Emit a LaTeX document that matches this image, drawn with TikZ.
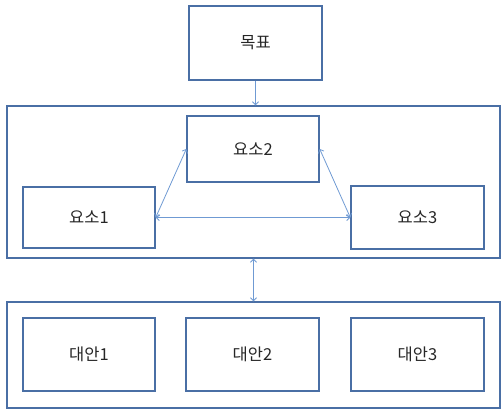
\documentclass[tikz,border=0pt]{standalone}
\usepackage{fontspec}
\setmainfont{Noto Sans CJK KR}
\usetikzlibrary{arrows.meta}
\definecolor{boxline}{HTML}{4A6FA5}
\definecolor{arrowline}{HTML}{6F9AD3}
\definecolor{labeltext}{HTML}{262626}
\begin{document}
\begin{tikzpicture}[x=1pt,y=-1pt]

      \tikzset{block/.style={draw=boxline, line width=1.4pt, rectangle, inner sep=0pt, font=\fontsize{16.5}{18}\selectfont, text=labeltext},
               link/.style={draw=arrowline, line width=0.8pt},
               tip/.tip={Straight Barb[length=3pt,width=6pt]}}
      \useasboundingbox (0,0) rectangle (501,409);
%% Frames
      	\node[block, minimum width=493pt, minimum height=152pt] (frame1) at (253.5,182) {};
      	\node[block, minimum width=493pt, minimum height=106pt] (frame2) at (253.5,355) {};
%% Goal
      	\node[block, minimum width=133pt, minimum height=74pt] (goal) at (255.5,43) {목표};
%% Elements
      	\node[block, minimum width=132pt, minimum height=66pt] (elem2) at (253,149) {요소2};
      	\node[block, minimum width=132pt, minimum height=61pt] (elem1) at (89,217.5) {요소1};
    	\node[block, minimum width=133pt, minimum height=63pt] (elem3) at (417.5,217.5) {요소3};
%% Alternatives
      	\node[block, minimum width=132pt, minimum height=73pt] (alt1) at (89,354.5) {대안1};
      	\node[block, minimum width=133pt, minimum height=73pt] (alt2) at (252.5,354.5) {대안2};
    	\node[block, minimum width=133pt, minimum height=73pt] (alt3) at (417.5,354.5) {대안3};
%Arrows
		\draw[link, -tip] (goal.south) -- (goal.south |- frame1.north);
		\draw[link, tip-tip] (elem1.east) -- (elem2.west);
		\draw[link, tip-tip] (elem2.east) -- (elem3.west);
		\draw[link, tip-tip] (elem1.east) -- (elem3.west);
		\draw[link, tip-tip] (frame1.south) -- (frame2.north);

	\end{tikzpicture}
\end{document}
